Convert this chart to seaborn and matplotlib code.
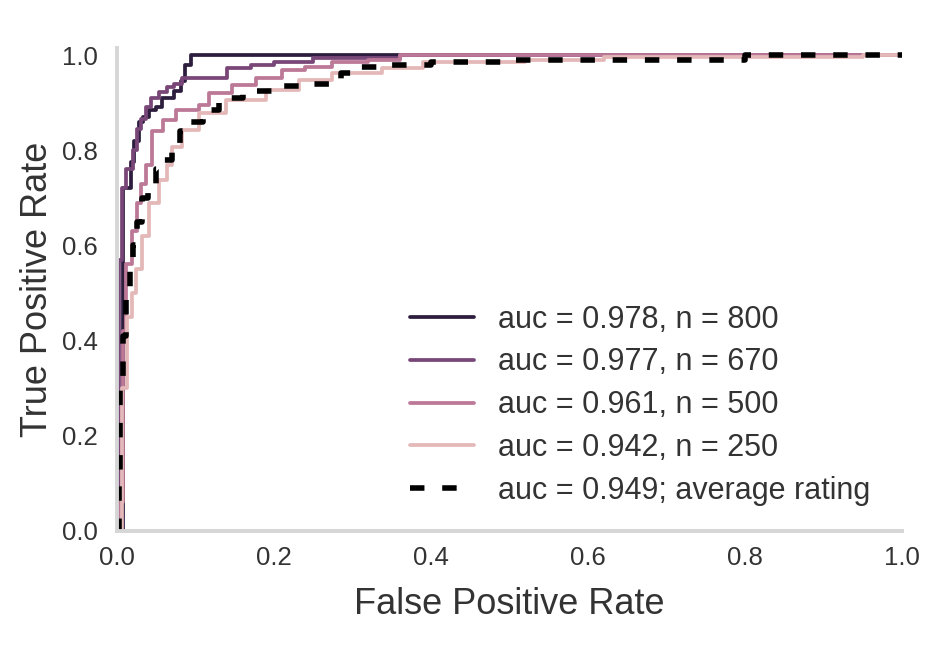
import numpy as np
import pandas as pd
import matplotlib
matplotlib.use("Agg")
import matplotlib.pyplot as plt
import seaborn as sns

# ---- data ----
labels = ["auc = 0.978, n = 800", "auc = 0.977, n = 670",
          "auc = 0.961, n = 500", "auc = 0.942, n = 250"]
avg_label = "auc = 0.949; average rating"

fpr_800 = [0, 0.008, 0.008, 0.018, 0.018, 0.022, 0.022, 0.028, 0.028, 0.033, 0.033,
           0.041, 0.041, 0.05, 0.05, 0.057, 0.057, 0.073, 0.073, 0.082, 0.082,
           0.086, 0.086, 0.094, 0.094, 1.0]
tpr_800 = [0, 0, 0.72, 0.72, 0.775, 0.775, 0.82, 0.82, 0.86, 0.86, 0.87,
           0.87, 0.885, 0.885, 0.89, 0.89, 0.91, 0.91, 0.925, 0.925, 0.945,
           0.945, 0.98, 0.98, 1.0, 1.0]

fpr_670 = [0, 0.003, 0.003, 0.006, 0.006, 0.012, 0.012, 0.02, 0.02, 0.026, 0.026,
           0.031, 0.031, 0.037, 0.037, 0.043, 0.043, 0.054, 0.054, 0.064, 0.064,
           0.073, 0.073, 0.083, 0.083, 0.14, 0.14, 0.17, 0.17, 0.2, 0.2, 0.25, 0.25,
           0.36, 0.36, 1.0]
tpr_670 = [0, 0, 0.57, 0.57, 0.72, 0.72, 0.76, 0.76, 0.80, 0.80, 0.845,
           0.845, 0.865, 0.865, 0.89, 0.89, 0.91, 0.91, 0.922, 0.922, 0.932,
           0.932, 0.94, 0.94, 0.952, 0.952, 0.972, 0.972, 0.979, 0.979, 0.986, 0.986, 0.993,
           0.993, 1.0, 1.0]

fpr_500 = [0, 0.003, 0.003, 0.008, 0.008, 0.012, 0.012, 0.019, 0.019, 0.025, 0.025,
           0.031, 0.031, 0.037, 0.037, 0.045, 0.045, 0.058, 0.058, 0.075, 0.075,
           0.105, 0.105, 0.117, 0.117, 0.146, 0.146, 0.177, 0.177, 0.21, 0.21,
           0.24, 0.24, 0.274, 0.274, 0.32, 0.32, 0.36, 0.36, 1.0]
tpr_500 = [0, 0, 0.06, 0.06, 0.42, 0.42, 0.56, 0.56, 0.63, 0.63, 0.69,
           0.69, 0.73, 0.73, 0.77, 0.77, 0.84, 0.84, 0.863, 0.863, 0.884,
           0.884, 0.895, 0.895, 0.92, 0.92, 0.937, 0.937, 0.952, 0.952, 0.968,
           0.968, 0.975, 0.975, 0.985, 0.985, 0.99, 0.99, 1.0, 1.0]

fpr_250 = [0, 0.006, 0.006, 0.013, 0.013, 0.019, 0.019, 0.024, 0.024, 0.032, 0.032,
           0.041, 0.041, 0.054, 0.054, 0.063, 0.063, 0.07, 0.07, 0.083, 0.083,
           0.105, 0.105, 0.139, 0.139, 0.19, 0.19, 0.232, 0.232, 0.274, 0.274,
           0.338, 0.338, 0.39, 0.39, 0.52, 0.52, 0.62, 0.62, 0.95, 0.95, 1.0]
tpr_250 = [0, 0, 0.3, 0.3, 0.45, 0.45, 0.5, 0.5, 0.55, 0.55, 0.62,
           0.62, 0.69, 0.69, 0.737, 0.737, 0.77, 0.77, 0.806, 0.806, 0.842,
           0.842, 0.878, 0.878, 0.905, 0.905, 0.926, 0.926, 0.947, 0.947, 0.962,
           0.962, 0.973, 0.973, 0.985, 0.985, 0.99, 0.99, 0.995, 0.995, 1.0, 1.0]

fpr_avg = [0, 0.002, 0.002, 0.004, 0.004, 0.008, 0.008, 0.012, 0.012, 0.016, 0.016,
           0.02, 0.02, 0.025, 0.025, 0.032, 0.032, 0.04, 0.04, 0.05, 0.05,
           0.06, 0.06, 0.07, 0.07, 0.08, 0.08, 0.09, 0.09, 0.11, 0.11,
           0.13, 0.13, 0.16, 0.16, 0.21, 0.21, 0.25, 0.25, 0.285, 0.285,
           0.31, 0.31, 0.34, 0.34, 0.4, 0.4, 0.5, 0.5, 0.8, 0.8, 1.0]
tpr_avg = [0, 0, 0.1, 0.1, 0.3, 0.3, 0.41, 0.41, 0.5, 0.5, 0.55,
           0.55, 0.6, 0.6, 0.65, 0.65, 0.7, 0.7, 0.72, 0.72, 0.76,
           0.76, 0.78, 0.78, 0.8, 0.8, 0.84, 0.84, 0.86, 0.86, 0.885,
           0.885, 0.91, 0.91, 0.925, 0.925, 0.935, 0.935, 0.94, 0.94, 0.962,
           0.962, 0.975, 0.975, 0.98, 0.98, 0.985, 0.985, 0.99, 0.99, 1.0, 1.0]

curves = [(fpr_800, tpr_800), (fpr_670, tpr_670), (fpr_500, tpr_500), (fpr_250, tpr_250)]
tick_vals = [0, 0.2, 0.4, 0.6, 0.8, 1.0]
tick_labels = ["0.0", "0.2", "0.4", "0.6", "0.8", "1.0"]

# ---- style ----
sns.set_theme(style="white")
plt.rcParams["font.family"] = ["Liberation Sans", "DejaVu Sans"]
text_col = "#333333"

palette = sns.cubehelix_palette(4, light=0.77, dark=0.15, reverse=True)

fig = plt.figure(figsize=(9.29, 6.48), dpi=100)
ax = fig.add_axes([0.126, 0.1806, 0.845, 0.7454])

for (fp, tp), lab, col in zip(curves, labels, palette):
    df = pd.DataFrame({"fpr": fp, "tpr": tp})
    sns.lineplot(data=df, x="fpr", y="tpr", sort=False, estimator=None,
                 color=col, linewidth=2.7, label=lab, ax=ax)

df_avg = pd.DataFrame({"fpr": fpr_avg, "tpr": tpr_avg})
sns.lineplot(data=df_avg, x="fpr", y="tpr", sort=False, estimator=None,
             color="black", linewidth=4, linestyle=(0, (2.6, 3.2)),
             label=avg_label, ax=ax)

ax.set_xlim(0, 1.0)
ax.set_ylim(0, 1.015)
ax.set_xticks(tick_vals)
ax.set_yticks(tick_vals)
ax.set_xticklabels(tick_labels)
ax.set_yticklabels(tick_labels)
ax.tick_params(labelsize=18.5, colors=text_col, length=0)
ax.tick_params(axis="x", pad=11)
ax.tick_params(axis="y", pad=14)
ax.set_xlabel("False Positive Rate", fontsize=26, color=text_col, labelpad=12)
ax.set_ylabel("True Positive Rate", fontsize=26, color=text_col, labelpad=5)

sns.despine(ax=ax)
for s in ["left", "bottom"]:
    ax.spines[s].set_color("#d6d6d6")
    ax.spines[s].set_linewidth(2.8)

leg = ax.legend(loc="lower right", bbox_to_anchor=(0.995, -0.005), frameon=False,
                fontsize=22, labelspacing=0.42, handlelength=2.1, handletextpad=0.8)
for t in leg.get_texts():
    t.set_color(text_col)

fig.savefig("out.png", dpi=100)
